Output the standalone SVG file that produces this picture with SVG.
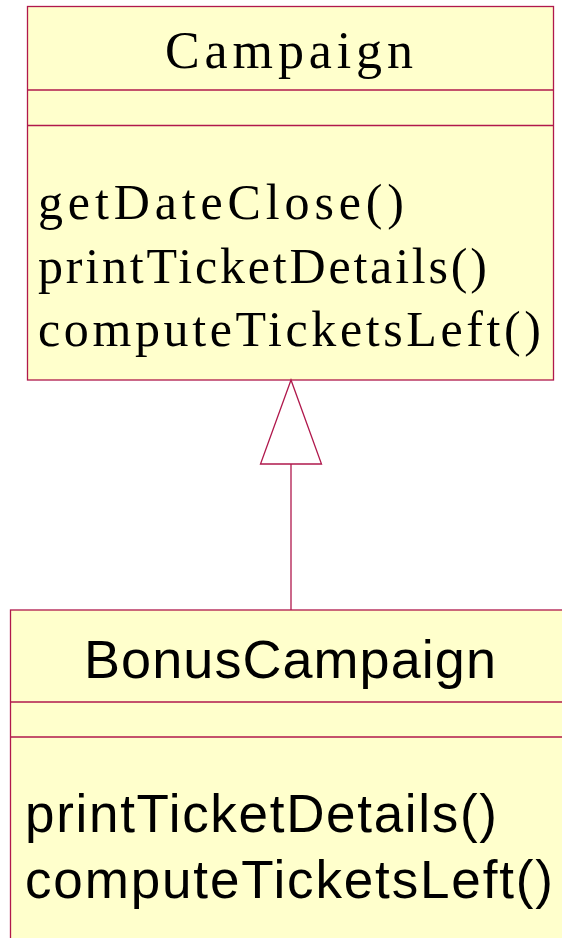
<svg xmlns="http://www.w3.org/2000/svg" width="562" height="938" viewBox="0 0 562 938">
<style>
.box{fill:#ffffcc;stroke:#b0184c;stroke-width:1.3}
.div{stroke:#b0184c;stroke-width:1.3}
.serif{font-family:"Liberation Serif","Times New Roman",serif;fill:#000}
.sans{font-family:"Liberation Sans",Arial,sans-serif;fill:#000}
.conn{fill:none;stroke:#b0184c;stroke-width:1.3}
</style>
<rect width="562" height="938" fill="#ffffff"/>
<g id="campaign">
<rect class="box" x="27.5" y="6.5" width="526" height="373.5"/>
<line class="div" x1="27.5" y1="90" x2="553.5" y2="90"/>
<line class="div" x1="27.5" y1="125.5" x2="553.5" y2="125.5"/>
<text class="serif" x="165" y="68" font-size="52" textLength="248" lengthAdjust="spacing">Campaign</text>
<text class="serif" x="38" y="219" font-size="50" textLength="366" lengthAdjust="spacing">getDateClose()</text>
<text class="serif" x="38" y="283" font-size="50" textLength="449" lengthAdjust="spacing">printTicketDetails()</text>
<text class="serif" x="38" y="346" font-size="50" textLength="503" lengthAdjust="spacing">computeTicketsLeft()</text>
</g>
<g id="bonuscampaign">
<rect class="box" x="10.5" y="610" width="560" height="340"/>
<line class="div" x1="10.5" y1="702" x2="562" y2="702"/>
<line class="div" x1="10.5" y1="737" x2="562" y2="737"/>
<text class="sans" x="84" y="678" font-size="54" textLength="412" lengthAdjust="spacing">BonusCampaign</text>
<text class="sans" x="25" y="832" font-size="53" textLength="472" lengthAdjust="spacing">printTicketDetails()</text>
<text class="sans" x="25" y="898" font-size="53" textLength="528" lengthAdjust="spacing">computeTicketsLeft()</text>
</g>
<g id="connectors">
<line class="conn" x1="291" y1="464" x2="291" y2="610"/>
<polygon class="conn" points="291,380 260.5,464 321.5,464"/>
</g>
</svg>
